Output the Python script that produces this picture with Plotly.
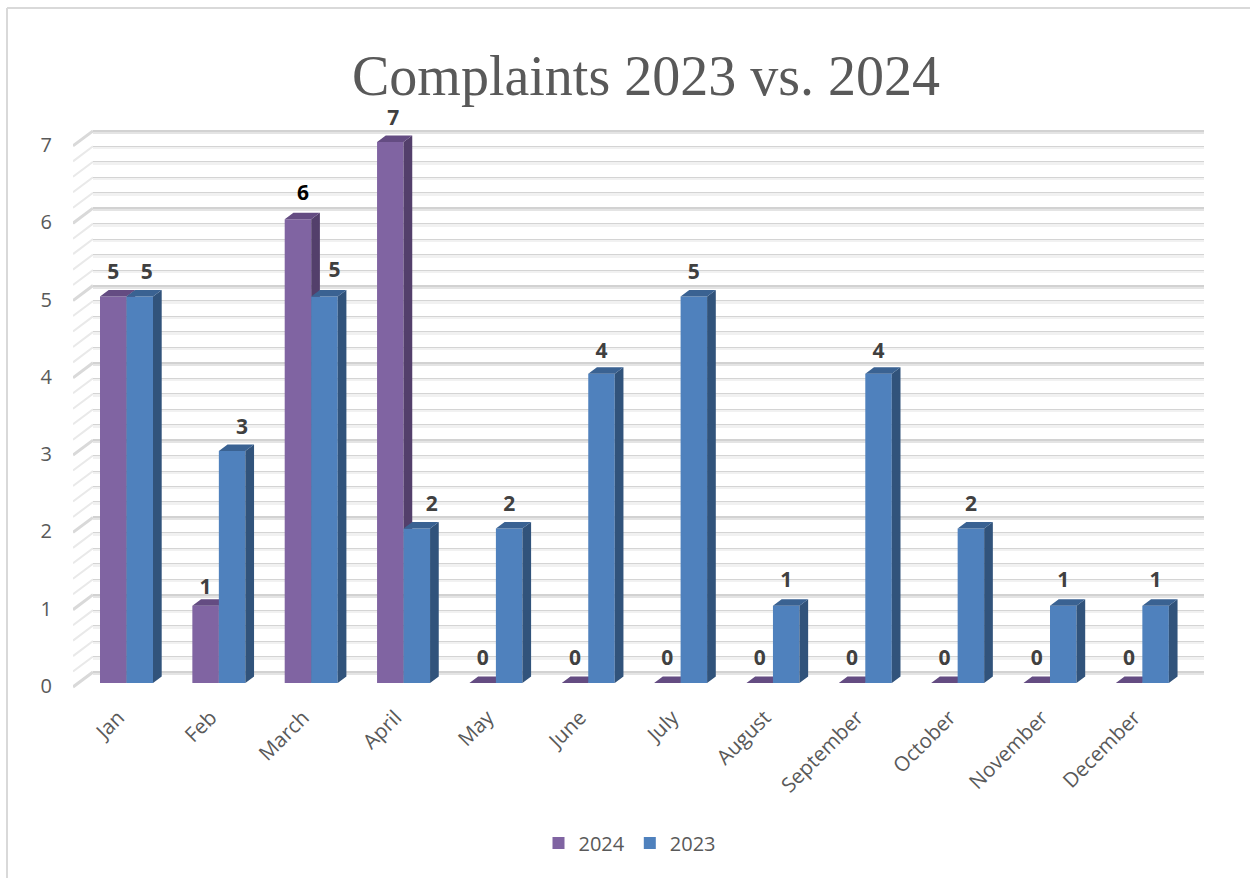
import plotly.graph_objects as go

# ---------- data ----------
categories = ["Jan", "Feb", "March", "April", "May", "June", "July", "August",
              "September", "October", "November", "December"]
values_2024 = [5, 1, 6, 7, 0, 0, 0, 0, 0, 0, 0, 0]
values_2023 = [5, 3, 5, 2, 2, 4, 5, 1, 4, 2, 1, 1]
y_ticks = [0, 1, 2, 3, 4, 5, 6, 7]

# label nudges in pixels (hand placed in the source chart)
nudge_x_2024 = [0, 0, 5, 3, 0, 0, 0, 0, 0, 0, 0, 0]
nudge_x_2023 = [7, 10, 10, 15, 0, 0, 0, 0, 0, 0, 0, 0]
nudge_y_2024 = [25, 19, 27, 25, 26, 26, 26, 26, 26, 26, 26, 26]
nudge_y_2023 = [25, 25, 27, 25, 25, 24, 25, 26, 24, 25, 26, 26]

# ---------- geometry in pixels ----------
W, H = 1250, 878
PLOT_L, PLOT_R, PLOT_T, PLOT_B = 93, 1204, 125, 686.5
ZERO_PX = 683             # pixel row of value 0 on the front plane
PX_UNIT_Y = 77.3          # pixels per value
PX_UNIT_X = 92.35         # pixels per category
X0_PX = 126.5             # pixel of the first category centre
BAR_W = 26.5 / PX_UNIT_X
DX = 8.7 / PX_UNIT_X      # bar depth
DY = 6.5 / PX_UNIT_Y
WALL_DY = 11 / PX_UNIT_Y  # back wall offset from front
STUB_PX_W = 20
STUB_PX_H = 15
STUB_DY = STUB_PX_H / PX_UNIT_Y
GLOW_DY = 1.5 / PX_UNIT_Y     # light band sits just under each dark gridline
TICK_SHIFT_X = 8 / PX_UNIT_X  # category labels end a little left of the bar pair
TICK_SHIFT_Y = 3 / PX_UNIT_Y
LABEL_ANCHOR_PX = 13          # text rises this far above its anchor point

x_range = [(PLOT_L - X0_PX) / PX_UNIT_X, (PLOT_R - X0_PX) / PX_UNIT_X]
y_front = [(ZERO_PX - PLOT_B) / PX_UNIT_Y, (ZERO_PX - PLOT_T) / PX_UNIT_Y]
y_wall = [y_front[0] - WALL_DY, y_front[1] - WALL_DY]
y_glow = [y_wall[0] + GLOW_DY, y_wall[1] + GLOW_DY]
xs = list(range(len(categories)))

GRAY = "#595959"
FONT = "Open Sans"


def faces(values, offset):
    side_x, side_y, top_x, top_y = [], [], [], []
    for i, v in zip(xs, values):
        a, b = i + offset, i + offset + BAR_W
        side_x += [b, b + DX, b + DX, b, b, None]
        side_y += [0, DY, v + DY, v, 0, None]
        top_x += [a, b, b + DX, a + DX, a, None]
        top_y += [v, v, v + DY, v + DY, v, None]
    return side_x, side_y, top_x, top_y


def face_trace(x, y, color, xa, ya):
    return go.Scatter(x=x, y=y, mode="lines", fill="toself", fillcolor=color,
                      line=dict(width=0, color=color), hoverinfo="skip",
                      showlegend=False, xaxis=xa, yaxis=ya, cliponaxis=False)


fig = go.Figure()

# empty traces keep the two back-wall axis pairs alive: they draw the gridlines
for xa, ya in [("x", "y"), ("x2", "y2")]:
    fig.add_trace(go.Scatter(x=[None], y=[None], mode="lines", hoverinfo="skip",
                             showlegend=False, xaxis=xa, yaxis=ya))

# wall stubs (left side wall), on their own small subplot left of the wall
stub_minor_x, stub_minor_y, stub_major_x, stub_major_y = [], [], [], []
for k in range(0, 36):
    v = k / 5
    if k % 5 == 0:
        stub_major_x += [1, 0, None]
        stub_major_y += [v, v - STUB_DY, None]
    else:
        stub_minor_x += [1, 0, None]
        stub_minor_y += [v, v - STUB_DY, None]
fig.add_trace(go.Scatter(x=stub_minor_x, y=stub_minor_y, mode="lines",
                         line=dict(color="#e9e9e9", width=2), hoverinfo="skip",
                         showlegend=False, xaxis="x5", yaxis="y5"))
fig.add_trace(go.Scatter(x=stub_major_x, y=stub_major_y, mode="lines",
                         line=dict(color="#d9d9d9", width=3), hoverinfo="skip",
                         showlegend=False, xaxis="x5", yaxis="y5"))

# purple series
fig.add_trace(go.Bar(x=xs, y=values_2024, name="2024", width=BAR_W, offset=-BAR_W,
                     marker=dict(color="#8064A2", line=dict(width=0)),
                     xaxis="x3", yaxis="y3"))
s = faces(values_2024, -BAR_W)
fig.add_trace(face_trace(s[0], s[1], "#533F6B", "x3", "y3"))
fig.add_trace(face_trace(s[2], s[3], "#644C82", "x3", "y3"))

# blue series
fig.add_trace(go.Bar(x=xs, y=values_2023, name="2023", width=BAR_W, offset=0,
                     marker=dict(color="#4F81BD", line=dict(width=0)),
                     xaxis="x4", yaxis="y4"))
s = faces(values_2023, 0)
fig.add_trace(face_trace(s[0], s[1], "#31537B", "x4", "y4"))
fig.add_trace(face_trace(s[2], s[3], "#3A6292", "x4", "y4"))

# data labels
label_x, label_y, label_t, label_c = [], [], [], []
for vals, off, nx, ny in [(values_2024, -BAR_W / 2, nudge_x_2024, nudge_y_2024),
                          (values_2023, BAR_W / 2, nudge_x_2023, nudge_y_2023)]:
    for i, v in enumerate(vals):
        label_x.append(i + off + nx[i] / PX_UNIT_X)
        label_y.append(v + (ny[i] - LABEL_ANCHOR_PX) / PX_UNIT_Y)
        label_t.append(f"<b>{v}</b>")
        label_c.append("#000000" if (off < 0 and v == 6) else "#404040")
fig.add_trace(go.Scatter(x=label_x, y=label_y, text=label_t, mode="text",
                         textposition="top center",
                         textfont=dict(family=FONT, size=21, color=label_c),
                         hoverinfo="skip", showlegend=False,
                         xaxis="x4", yaxis="y4", cliponaxis=False))

dom_x = [PLOT_L / W, PLOT_R / W]
dom_y = [1 - PLOT_B / H, 1 - PLOT_T / H]
STUB_BOTTOM = ZERO_PX + 10
hidden = dict(visible=False, showgrid=False, zeroline=False)
wall_common = dict(tick0=0, dtick=1, showgrid=True, zeroline=False, showline=False,
                   showticklabels=False, ticks="")

fig.update_layout(
    width=W, height=H, margin=dict(l=0, r=0, t=0, b=0, autoexpand=False),
    paper_bgcolor="white", plot_bgcolor="rgba(0,0,0,0)",
    font=dict(family=FONT, color=GRAY),
    barmode="overlay",
    title=dict(text="Complaints 2023 vs. 2024", x=646 / W, xanchor="center",
               y=1 - 75 / H, yanchor="middle", automargin=False,
               font=dict(family="Liberation Serif", size=56, color=GRAY)),
    # light band under each gridline
    xaxis=dict(domain=dom_x, range=x_range, **hidden),
    yaxis=dict(domain=dom_y, range=y_glow, gridcolor="#e4e4e4", gridwidth=3,
               minor=dict(tick0=0, dtick=0.2, showgrid=True, gridcolor="#f1f1f1",
                          gridwidth=3, ticks=""), **wall_common),
    # darker top edge of each gridline
    xaxis2=dict(overlaying="x", domain=dom_x, range=x_range, **hidden),
    yaxis2=dict(overlaying="y", domain=dom_y, range=y_wall, gridcolor="#d2d2d2", gridwidth=2,
                minor=dict(tick0=0, dtick=0.2, showgrid=True, gridcolor="#d4d4d4",
                           gridwidth=1, ticks=""), **wall_common),
    xaxis3=dict(overlaying="x", domain=dom_x, range=x_range, **hidden),
    yaxis3=dict(overlaying="y", domain=dom_y, range=y_front, **hidden),
    xaxis4=dict(overlaying="x", domain=dom_x, range=x_range, showgrid=False, zeroline=False,
                tickmode="array", tickvals=[i - TICK_SHIFT_X for i in xs], ticktext=categories,
                tickangle=-45, ticks="outside", ticklen=10, tickcolor="rgba(0,0,0,0)",
                tickfont=dict(family=FONT, size=20.5, color=GRAY), anchor="y4"),
    yaxis4=dict(overlaying="y", domain=dom_y, range=y_front, showgrid=False, zeroline=False,
                tickmode="array", tickvals=[v - TICK_SHIFT_Y for v in y_ticks],
                ticktext=[str(v) for v in y_ticks], ticks="outside", ticklen=36,
                tickcolor="rgba(0,0,0,0)", anchor="x4",
                tickfont=dict(family=FONT, size=20, color=GRAY)),
    xaxis5=dict(domain=[(PLOT_L - STUB_PX_W) / W, PLOT_L / W], range=[0, 1], anchor="y5", **hidden),
    yaxis5=dict(domain=[1 - STUB_BOTTOM / H, 1 - PLOT_T / H],
                range=[-WALL_DY - (STUB_BOTTOM - ZERO_PX) / PX_UNIT_Y, y_wall[1]],
                anchor="x5", **hidden),
    legend=dict(orientation="h", x=630 / W, xanchor="center", y=1 - 843 / H,
                yanchor="middle", font=dict(family=FONT, size=20, color=GRAY),
                bgcolor="rgba(0,0,0,0)"),
    shapes=[dict(type="line", xref="paper", yref="paper",
                 x0=7 / W, x1=7 / W, y0=0, y1=1 - 8 / H,
                 line=dict(color="#d9d9d9", width=2), layer="below"),
            dict(type="line", xref="paper", yref="paper",
                 x0=7 / W, x1=1, y0=1 - 8 / H, y1=1 - 8 / H,
                 line=dict(color="#d9d9d9", width=2), layer="below")],
)

fig.write_html("out.html", config={"displayModeBar": False},
               post_script="document.body.style.margin='0';document.body.style.overflow='hidden';")
